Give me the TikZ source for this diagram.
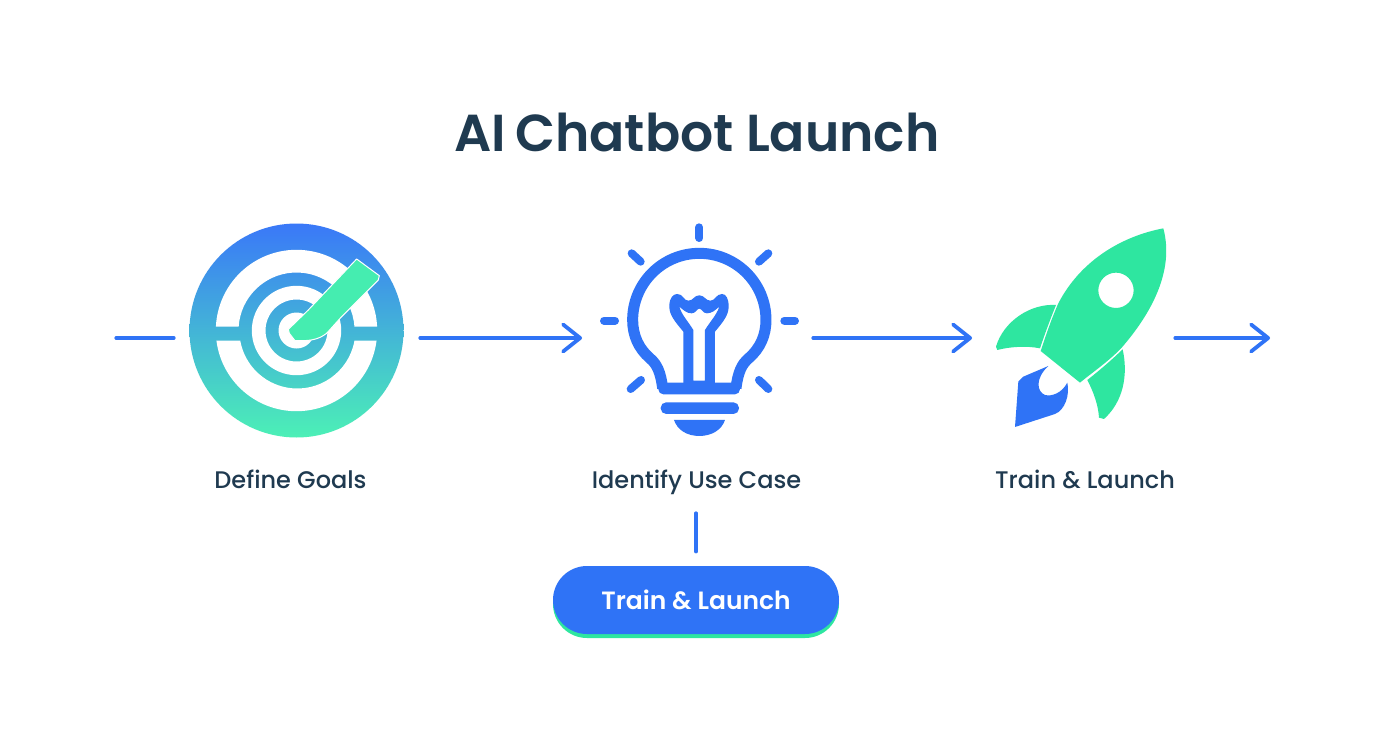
\documentclass[tikz,border=0pt]{standalone}
\usepackage{fontspec}
\usetikzlibrary{arrows.meta}
\newfontfamily\popm{Poppins Medium}
\newfontfamily\pops{Poppins SemiBold}
\definecolor{ink}{HTML}{1F3A50}
\definecolor{lineblue}{HTML}{2F73F6}
\definecolor{topblue}{HTML}{3A78F8}
\definecolor{mint}{HTML}{4CF0B6}
\definecolor{pinmint}{HTML}{45EDB0}
\definecolor{rocketgreen}{HTML}{2EE6A0}
\tikzset{
  iconbox/.style={inner sep=0pt,outer sep=0pt,minimum height=40pt},
  labeltext/.style={font=\popm\fontsize{24}{28}\selectfont,text=ink,inner sep=0pt,anchor=base},
  flow/.style={draw=lineblue,line width=3.2pt,line cap=round},
  flowhead/.style={flow,-{Straight Barb[length=17pt,width=27pt,line width=3.8pt,round]}},
  ray/.style={draw=lineblue,line width=8pt,line cap=round},
  zoomA/.style={shift={(170,210)},x=0.3333pt,y=-0.3333pt},
  zoomB/.style={shift={(590,210)},x=0.3333pt,y=-0.3333pt},
  zoomC/.style={shift={(980,215)},x=0.3333pt,y=-0.3333pt},
}
\begin{document}
\begin{tikzpicture}[x=1pt,y=-1pt]
\useasboundingbox (0,0) rectangle (1392,752);
\fill[white] (0,0) rectangle (1392,752);

% title
\node[font=\pops\fontsize{52}{60}\selectfont,text=ink,inner sep=0pt,anchor=base] (title) at (697,151.7) {AI\hspace{-3pt} Chatbot Launch};

% target icon
\shade[top color=topblue,bottom color=mint] (296.5,330.5) circle (107);
\fill[white] (296.5,330.5) ++(-177.3:80.7) arc (-177.3:-2.7:80.7) -- ++(-22.7,0.0) arc (-3.75:-176.25:58) -- cycle;
\fill[white] (296.5,330.5) ++(172.74:80.7) arc (172.74:7.26:80.7) -- ++(-22.1,0) arc (10.13:169.87:58) -- cycle;
\fill[white,even odd rule] (296.5,330.5) circle (44.7) circle (31);
\fill[white] (296.5,330.5) circle (18);
\begin{scope}[zoomA]
\draw[white,line width=1pt,fill=pinmint,line join=round] (560,147) -- (628,197) -- (625,210) -- (515,320) -- (470,370)
  .. controls (450,385) and (430,392) .. (395,392) -- (375,392) -- (358,370) -- (355,358) -- (415,300) -- cycle;
\end{scope}

% bulb icon
\begin{scope}[zoomB]
\draw[ray] (328,52) -- (328,84);
\draw[ray] (125,130) -- (152,155);
\draw[ray] (535,130) -- (507,155);
\draw[ray] (42,332) -- (75,332);
\draw[ray] (583,332) -- (615,332);
\draw[ray] (122,537) -- (153,510);
\draw[ray] (535,537) -- (507,510);
\draw[lineblue,line width=11pt] (218,535) .. controls (212,485) and (200,462) .. (180,445)
  .. controls (145,415) and (128,375) .. (128,330) arc (180:360:200)
  .. controls (528,375) and (511,415) .. (476,445) .. controls (456,462) and (444,485) .. (438,535);
\fill[lineblue,rounded corners=5pt] (205,518) rectangle (450,553);
\fill[lineblue,rounded corners=5.5pt] (212,577) rectangle (447,612);
\fill[lineblue] (252,630) -- (405,630) .. controls (395,660) and (365,678) .. (328,678) .. controls (291,678) and (262,660) .. (252,630) -- cycle;
\fill[lineblue,even odd rule]
  (280,525) -- (280,365) .. controls (255,335) and (238,315) .. (238,290)
  .. controls (238,262) and (250,252) .. (262,252) .. controls (280,252) and (280,272) .. (295,272)
  .. controls (310,272) and (312,256) .. (328,256) .. controls (344,256) and (346,272) .. (361,272)
  .. controls (376,272) and (378,252) .. (396,252) .. controls (408,252) and (416,265) .. (416,290)
  .. controls (416,315) and (400,335) .. (375,365) -- (375,525) -- cycle
  (310,512) -- (310,360) .. controls (295,335) and (275,315) .. (268,290)
  .. controls (280,300) and (290,310) .. (305,310) .. controls (318,310) and (320,296) .. (328,296)
  .. controls (336,296) and (338,310) .. (351,310) .. controls (366,310) and (376,300) .. (388,290)
  .. controls (380,315) and (360,335) .. (345,360) -- (345,512) -- cycle;
\end{scope}

% rocket icon
\begin{scope}[zoomC]
\fill[rocketgreen] (228,270) .. controls (150,265) and (70,320) .. (48,395) -- (52,405)
  .. controls (90,395) and (140,392) .. (180,400) .. controls (195,355) and (210,315) .. (228,270) -- cycle;
\fill[rocketgreen] (428,403) .. controls (445,480) and (430,560) .. (372,612) -- (357,608)
  .. controls (355,570) and (340,530) .. (322,495) .. controls (360,465) and (395,435) .. (428,403) -- cycle;
\fill[rocketgreen,even odd rule] (550,40) .. controls (420,65) and (300,140) .. (235,265)
  .. controls (215,310) and (198,360) .. (182,408) -- (300,503)
  .. controls (340,470) and (385,440) .. (425,398) .. controls (510,300) and (585,170) .. (550,40) -- cycle
  (461,226) arc (0:360:53);
\fill[lineblue] (205,453) -- (130,485) -- (115,500) -- (105,636) -- (225,597)
  .. controls (255,585) and (270,540) .. (262,503) .. controls (245,535) and (215,545) .. (195,540)
  .. controls (170,530) and (165,490) .. (205,453) -- cycle;
\end{scope}

% step anchors for the flow
\node[iconbox,minimum width=246pt] (goal) at (297,338) {};
\node[iconbox,minimum width=231pt] (bulb) at (697.5,338) {};
\node[iconbox,minimum width=203pt] (rocket) at (1073.5,338) {};
\coordinate (flowin) at (116,338);
\coordinate (flowout) at (1270,338);

\draw[flow] (flowin) -- (goal);
\draw[flowhead] (goal) -- (bulb);
\draw[flowhead] (bulb) -- (rocket);
\draw[flowhead] (rocket) -- (flowout);

% labels
\node[labeltext] (lgoal) at (290.5,488) {Define Goals};
\node[labeltext] (luse) at (696.5,488) {Identify Use Case};
\node[labeltext] (ltrain) at (1085,488) {Train \& Launch};

% button
\fill[rocketgreen,rounded corners=34pt] (553,570) rectangle (839,638);
\node[fill=lineblue,text=white,font=\pops\fontsize{25}{30}\selectfont,inner sep=0pt,
  minimum width=286pt,minimum height=68pt,rounded corners=34pt] (button) at (696,600) {Train \& Launch};

\coordinate (stemtop) at (696,513);
\draw[flow] (stemtop) -- ([yshift=14pt]button.north);
\end{tikzpicture}
\end{document}
